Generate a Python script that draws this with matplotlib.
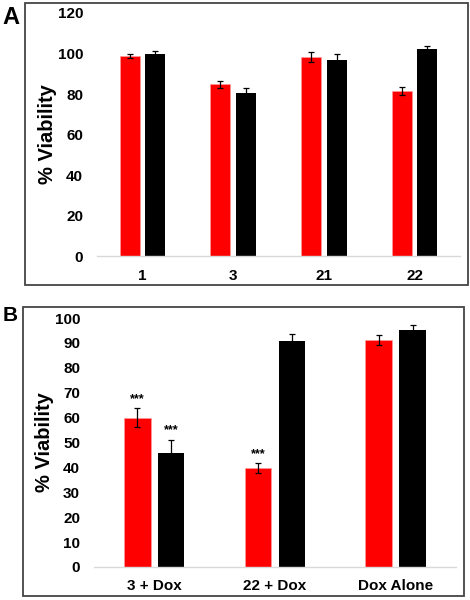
import matplotlib.pyplot as plt
import numpy as np
from matplotlib.patches import Rectangle

plt.rcParams["font.family"] = ["Liberation Sans", "DejaVu Sans"]
plt.rcParams["font.weight"] = "bold"

# Panel A data
a_labels = ["1", "3", "21", "22"]
a_red = [98.6, 84.7, 98.4, 81.4]
a_red_err = [1.0, 1.8, 2.4, 2.0]
a_black = [99.6, 80.6, 96.9, 102.4]
a_black_err = [1.5, 2.3, 3.0, 1.3]

# Panel B data
b_labels = ["3 + Dox", "22 + Dox", "Dox Alone"]
b_red = [60.0, 39.9, 91.0]
b_red_err = [3.8, 2.0, 2.0]
b_black = [45.6, 90.6, 95.3]
b_black_err = [5.6, 3.0, 1.7]
b_red_stars = ["***", "***", ""]
b_black_stars = ["***", "", ""]

W, H = 470, 600
fig = plt.figure(figsize=(W / 100, H / 100), dpi=100)


def fx(px):
    return px / W


def fy(py):
    return 1 - py / H


def draw_panel(ax, labels, red, red_err, black, black_err, ymax, step, ylab_x):
    x = np.arange(len(labels))
    w = 0.22
    off = 0.14
    ekw = dict(ecolor="black", elinewidth=0.9, capsize=2.5, capthick=0.9)
    ax.bar(x - off, red, w, color="#ff0000", edgecolor="#ff9999",
           linewidth=0.5, yerr=red_err, error_kw=ekw)
    ax.bar(x + off, black, w, color="black", yerr=black_err, error_kw=ekw)
    ax.set_xlim(-0.5, len(labels) - 0.5)
    ax.set_ylim(0, ymax)
    ax.set_yticks(np.arange(0, ymax + 1, step))
    ax.set_xticks(x)
    ax.set_xticklabels(labels)
    for s in ["left", "right", "top"]:
        ax.spines[s].set_visible(False)
    ax.spines["bottom"].set_color("#d9d9d9")
    ax.spines["bottom"].set_linewidth(1.0)
    ax.tick_params(axis="both", length=0, labelsize=11)
    ax.tick_params(axis="y", pad=10)
    ax.tick_params(axis="x", pad=9)
    for t in ax.get_xticklabels() + ax.get_yticklabels():
        t.set_fontweight("bold")
    ax.set_ylabel("% Viability", fontsize=14.5, fontweight="bold")
    ax.yaxis.set_label_coords(ylab_x, 0.5)
    return x, off


# Panel A
axA = fig.add_axes([fx(97), fy(256), fx(460) - fx(97), fy(13) - fy(256)])
draw_panel(axA, a_labels, a_red, a_red_err, a_black, a_black_err, 120, 20, -0.11)

# Panel B
axB = fig.add_axes([fx(94), fy(567), fx(456) - fx(94), fy(318) - fy(567)])
xb, off = draw_panel(axB, b_labels, b_red, b_red_err, b_black, b_black_err, 100, 10, -0.11)
for i in range(len(b_labels)):
    if b_red_stars[i]:
        axB.text(xb[i] - off, b_red[i] + b_red_err[i] + 1.2, b_red_stars[i],
                 ha="center", va="bottom", fontsize=9, fontweight="bold")
    if b_black_stars[i]:
        axB.text(xb[i] + off, b_black[i] + b_black_err[i] + 1.2, b_black_stars[i],
                 ha="center", va="bottom", fontsize=9, fontweight="bold")

# outer frames
for (x0, y0, x1, y1) in [(25, 3, 468, 285), (23, 307, 464, 596)]:
    fig.patches.append(Rectangle((fx(x0), fy(y1)), fx(x1) - fx(x0), fy(y0) - fy(y1),
                                 transform=fig.transFigure, fill=False,
                                 edgecolor="#444444", linewidth=1.3))

fig.text(fx(11), fy(17.5), "A", fontsize=17, fontweight="bold", ha="center", va="center")
fig.text(fx(10), fy(316), "B", fontsize=15, fontweight="bold", ha="center", va="center")

fig.savefig("out.png", dpi=100)
